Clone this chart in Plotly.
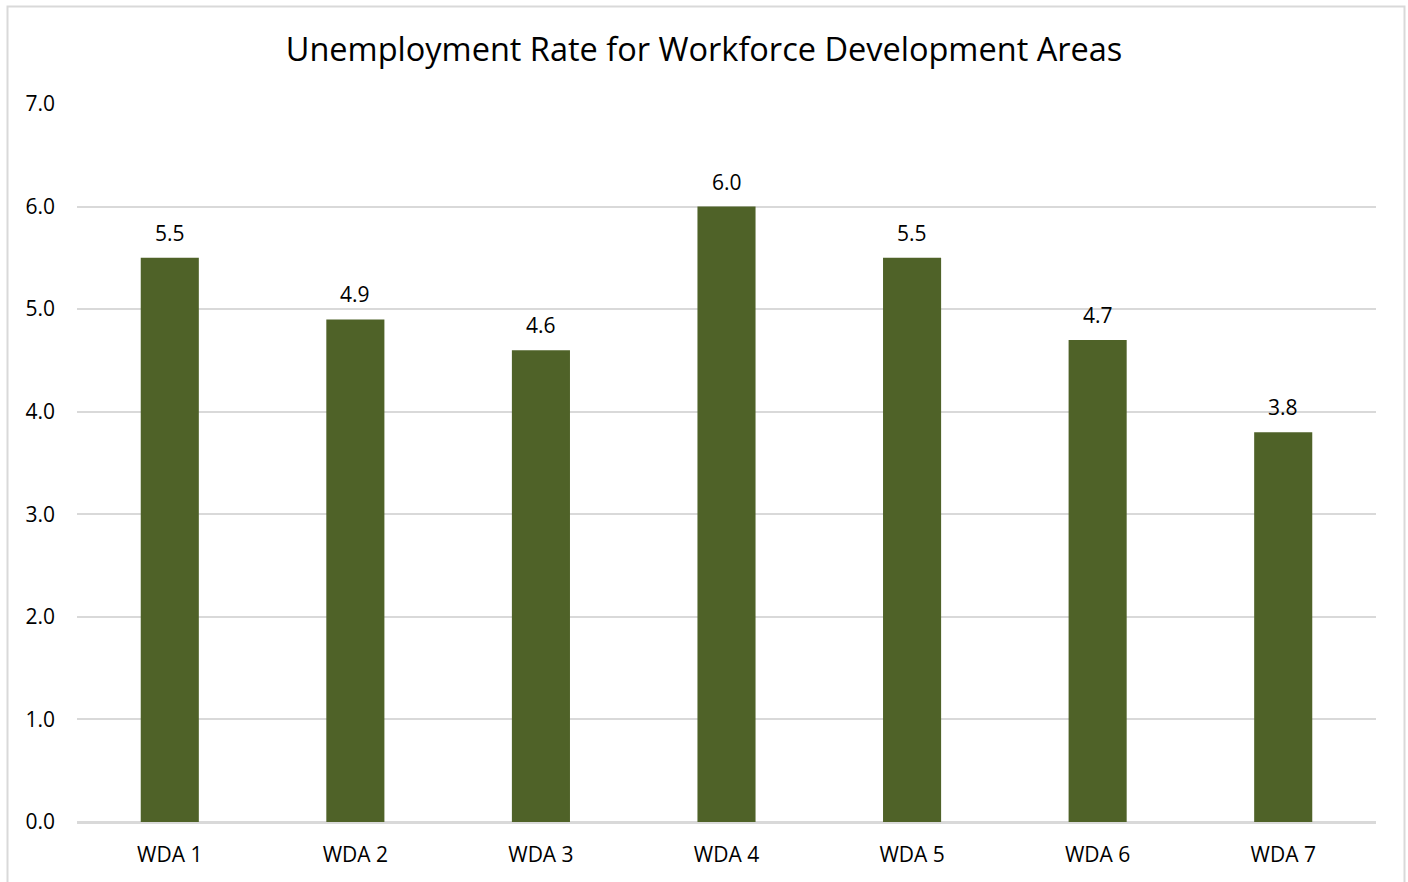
import plotly.graph_objects as go

# Unemployment rate by Workforce Development Area
areas = ["WDA 1", "WDA 2", "WDA 3", "WDA 4", "WDA 5", "WDA 6", "WDA 7"]
rates = [5.5, 4.9, 4.6, 6.0, 5.5, 4.7, 3.8]
y_ticks = [0, 1, 2, 3, 4, 5, 6, 7]

BAR_COLOR = "#4F6228"
GRID_COLOR = "#D9D9D9"
FONT = "Open Sans"
LABEL_SIZE = 21

W, H = 1408, 882
ML, MR, MT, MB = 77, 32, 104, 60
PW, PH = W - ML - MR, H - MT - MB


def px_x(p):
    return (p - ML) / PW


def px_y(p):
    return (H - MB - p) / PH


fig = go.Figure(
    go.Bar(
        x=areas,
        y=rates,
        marker=dict(color=BAR_COLOR, line=dict(width=0)),
        hoverinfo="x+y",
    )
)

# value labels sitting just above each bar
for a, v in zip(areas, rates):
    fig.add_annotation(
        x=a,
        y=v,
        text=f"{v:.1f}",
        showarrow=False,
        xanchor="center",
        yanchor="bottom",
        yshift=9,
        font=dict(family=FONT, size=LABEL_SIZE, color="#000000"),
    )

fig.update_layout(
    width=W,
    height=H,
    margin=dict(l=ML, r=MR, t=MT, b=MB),
    paper_bgcolor="white",
    plot_bgcolor="white",
    bargap=0.687,
    showlegend=False,
    title=dict(
        text="Unemployment Rate for Workforce Development Areas",
        font=dict(family=FONT, size=32.5, color="#000000"),
        x=0.5,
        xanchor="center",
        y=1 - 50 / H,
        yanchor="middle",
    ),
    xaxis=dict(
        showgrid=False,
        showline=False,
        ticks="",
        ticklabelstandoff=18,
        tickfont=dict(family=FONT, size=LABEL_SIZE, color="#000000"),
    ),
    yaxis=dict(
        range=[0, 7],
        tickvals=y_ticks,
        ticktext=[f"{v:.1f}" for v in y_ticks],
        tickfont=dict(family=FONT, size=LABEL_SIZE, color="#000000"),
        showgrid=True,
        gridcolor=GRID_COLOR,
        gridwidth=1.5,
        zeroline=True,
        zerolinecolor=GRID_COLOR,
        zerolinewidth=2.5,
        ticks="",
        ticklabelstandoff=21,
        showline=False,
    ),
    shapes=[
        dict(
            type="rect",
            xref="paper",
            yref="paper",
            x0=px_x(7.5),
            x1=px_x(1404.5),
            y0=px_y(895),
            y1=px_y(6.5),
            line=dict(color=GRID_COLOR, width=2),
            fillcolor="rgba(0,0,0,0)",
            layer="below",
        )
    ],
)

fig.write_html("out.html")
